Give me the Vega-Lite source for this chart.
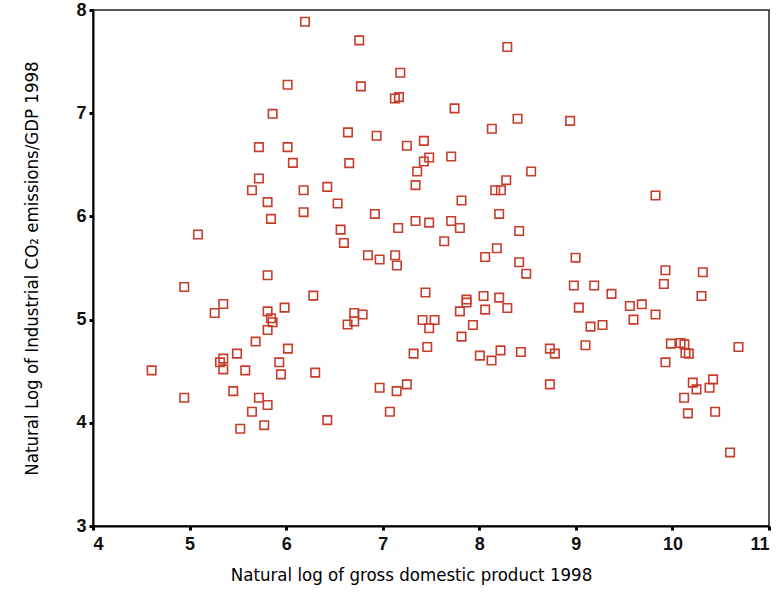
{
  "$schema": "https://vega.github.io/schema/vega-lite/v6.json",
  "width": 676,
  "height": 516,
  "autosize": {"type": "none"},
  "padding": {"left": 93, "top": 10, "right": 8, "bottom": 67},
  "background": "white",
  "config": {
    "view": {"stroke": "#222", "strokeWidth": 1.5},
    "axis": {
      "grid": false,
      "domainColor": "#000",
      "domainWidth": 2,
      "tickColor": "#000",
      "tickSize": 4,
      "tickWidth": 3,
      "labelFont": "Liberation Sans",
      "labelFontSize": 18,
      "labelFontWeight": "bold",
      "labelColor": "#111",
      "titleFont": "Liberation Sans Narrow, DejaVu Sans Condensed, Roboto, sans-serif",
      "titleFontSize": 18.5,
      "titleFontWeight": "normal",
      "titleColor": "#000"
    }
  },
  "data": {
    "values": [
      {"gdp": 6.195, "co2": 7.886}, {"gdp": 6.015, "co2": 7.276}, {"gdp": 5.860, "co2": 6.994},
      {"gdp": 5.718, "co2": 6.671}, {"gdp": 6.015, "co2": 6.671}, {"gdp": 6.070, "co2": 6.519},
      {"gdp": 5.718, "co2": 6.367}, {"gdp": 5.646, "co2": 6.254}, {"gdp": 6.181, "co2": 6.254},
      {"gdp": 5.808, "co2": 6.138}, {"gdp": 5.843, "co2": 5.976}, {"gdp": 6.181, "co2": 6.041},
      {"gdp": 5.087, "co2": 5.824},
      {"gdp": 6.757, "co2": 7.706}, {"gdp": 8.290, "co2": 7.641}, {"gdp": 7.182, "co2": 7.392},
      {"gdp": 6.774, "co2": 7.260}, {"gdp": 7.126, "co2": 7.143}, {"gdp": 7.168, "co2": 7.156},
      {"gdp": 7.744, "co2": 7.047}, {"gdp": 8.396, "co2": 6.946}, {"gdp": 8.130, "co2": 6.849},
      {"gdp": 6.640, "co2": 6.814}, {"gdp": 6.937, "co2": 6.781}, {"gdp": 7.426, "co2": 6.732},
      {"gdp": 7.250, "co2": 6.684}, {"gdp": 7.709, "co2": 6.581}, {"gdp": 7.481, "co2": 6.571},
      {"gdp": 7.426, "co2": 6.532}, {"gdp": 6.653, "co2": 6.516}, {"gdp": 7.357, "co2": 6.435},
      {"gdp": 8.537, "co2": 6.435}, {"gdp": 8.279, "co2": 6.351}, {"gdp": 7.340, "co2": 6.303},
      {"gdp": 6.426, "co2": 6.286}, {"gdp": 8.165, "co2": 6.254}, {"gdp": 8.224, "co2": 6.254},
      {"gdp": 7.816, "co2": 6.154}, {"gdp": 6.533, "co2": 6.125}, {"gdp": 6.919, "co2": 6.024},
      {"gdp": 8.206, "co2": 6.024}, {"gdp": 7.340, "co2": 5.956}, {"gdp": 7.481, "co2": 5.940},
      {"gdp": 7.709, "co2": 5.956}, {"gdp": 7.799, "co2": 5.888}, {"gdp": 6.564, "co2": 5.872},
      {"gdp": 7.160, "co2": 5.888}, {"gdp": 8.413, "co2": 5.859}, {"gdp": 7.637, "co2": 5.759},
      {"gdp": 6.598, "co2": 5.743}, {"gdp": 8.182, "co2": 5.692}, {"gdp": 8.061, "co2": 5.607},
      {"gdp": 6.847, "co2": 5.624}, {"gdp": 6.968, "co2": 5.582}, {"gdp": 7.129, "co2": 5.624},
      {"gdp": 7.147, "co2": 5.524}, {"gdp": 8.413, "co2": 5.556}, {"gdp": 8.486, "co2": 5.445},
      {"gdp": 8.941, "co2": 6.926}, {"gdp": 9.825, "co2": 6.202}, {"gdp": 8.997, "co2": 5.600},
      {"gdp": 9.928, "co2": 5.478}, {"gdp": 10.315, "co2": 5.459},
      {"gdp": 5.808, "co2": 5.430}, {"gdp": 4.945, "co2": 5.316}, {"gdp": 6.281, "co2": 5.232},
      {"gdp": 5.349, "co2": 5.151}, {"gdp": 5.260, "co2": 5.064}, {"gdp": 5.808, "co2": 5.080},
      {"gdp": 5.984, "co2": 5.116}, {"gdp": 5.843, "co2": 5.013}, {"gdp": 5.860, "co2": 4.974},
      {"gdp": 5.808, "co2": 4.899}, {"gdp": 5.684, "co2": 4.787}, {"gdp": 6.019, "co2": 4.719},
      {"gdp": 5.491, "co2": 4.670}, {"gdp": 5.349, "co2": 4.622}, {"gdp": 5.315, "co2": 4.586},
      {"gdp": 5.349, "co2": 4.518}, {"gdp": 5.577, "co2": 4.508}, {"gdp": 5.929, "co2": 4.586},
      {"gdp": 5.946, "co2": 4.469}, {"gdp": 6.301, "co2": 4.486}, {"gdp": 4.607, "co2": 4.508},
      {"gdp": 4.945, "co2": 4.243}, {"gdp": 5.452, "co2": 4.307}, {"gdp": 5.718, "co2": 4.243},
      {"gdp": 5.808, "co2": 4.172}, {"gdp": 5.646, "co2": 4.107}, {"gdp": 5.773, "co2": 3.977},
      {"gdp": 5.525, "co2": 3.942},
      {"gdp": 7.443, "co2": 5.262}, {"gdp": 6.705, "co2": 5.064}, {"gdp": 6.792, "co2": 5.049},
      {"gdp": 6.705, "co2": 4.981}, {"gdp": 6.636, "co2": 4.952}, {"gdp": 7.412, "co2": 4.996},
      {"gdp": 7.537, "co2": 4.996}, {"gdp": 7.481, "co2": 4.916}, {"gdp": 7.461, "co2": 4.734},
      {"gdp": 7.320, "co2": 4.670}, {"gdp": 7.868, "co2": 5.194}, {"gdp": 7.868, "co2": 5.165},
      {"gdp": 7.799, "co2": 5.080}, {"gdp": 8.044, "co2": 5.229}, {"gdp": 8.061, "co2": 5.097},
      {"gdp": 8.206, "co2": 5.213}, {"gdp": 8.290, "co2": 5.113}, {"gdp": 7.934, "co2": 4.948},
      {"gdp": 7.816, "co2": 4.835}, {"gdp": 8.006, "co2": 4.651}, {"gdp": 8.127, "co2": 4.603},
      {"gdp": 8.220, "co2": 4.702}, {"gdp": 8.431, "co2": 4.686}, {"gdp": 6.968, "co2": 4.340},
      {"gdp": 7.144, "co2": 4.307}, {"gdp": 7.250, "co2": 4.372}, {"gdp": 7.074, "co2": 4.107},
      {"gdp": 6.426, "co2": 4.026},
      {"gdp": 9.911, "co2": 5.345}, {"gdp": 10.301, "co2": 5.229}, {"gdp": 8.979, "co2": 5.330},
      {"gdp": 9.190, "co2": 5.330}, {"gdp": 9.369, "co2": 5.249}, {"gdp": 9.031, "co2": 5.116},
      {"gdp": 9.559, "co2": 5.132}, {"gdp": 9.683, "co2": 5.148}, {"gdp": 9.597, "co2": 5.000},
      {"gdp": 9.825, "co2": 5.049}, {"gdp": 9.152, "co2": 4.932}, {"gdp": 9.276, "co2": 4.948},
      {"gdp": 9.100, "co2": 4.751}, {"gdp": 8.731, "co2": 4.719}, {"gdp": 8.783, "co2": 4.670},
      {"gdp": 8.731, "co2": 4.372}, {"gdp": 9.984, "co2": 4.767}, {"gdp": 10.084, "co2": 4.773},
      {"gdp": 10.124, "co2": 4.760}, {"gdp": 10.135, "co2": 4.676}, {"gdp": 10.170, "co2": 4.670},
      {"gdp": 9.928, "co2": 4.586}, {"gdp": 10.684, "co2": 4.734}, {"gdp": 10.211, "co2": 4.389},
      {"gdp": 10.249, "co2": 4.324}, {"gdp": 10.421, "co2": 4.421}, {"gdp": 10.384, "co2": 4.340},
      {"gdp": 10.121, "co2": 4.243}, {"gdp": 10.160, "co2": 4.091}, {"gdp": 10.442, "co2": 4.107},
      {"gdp": 10.597, "co2": 3.713}
    ]
  },
  "mark": {"type": "point", "shape": "square", "filled": false, "size": 72, "strokeWidth": 1.6, "color": "#c63d2c", "opacity": 1},
  "encoding": {
    "x": {
      "field": "gdp", "type": "quantitative",
      "scale": {"domain": [4, 11], "nice": false, "zero": false},
      "axis": {"values": [4, 5, 6, 7, 8, 9, 10, 11], "title": "Natural log of gross domestic product 1998", "labelPadding": 5, "titlePadding": 12, "titleX": 318}
    },
    "y": {
      "field": "co2", "type": "quantitative",
      "scale": {"domain": [3, 8], "nice": false, "zero": false},
      "axis": {"values": [3, 4, 5, 6, 7, 8], "title": "Natural Log of Industrial CO₂ emissions/GDP 1998", "labelPadding": 3, "titlePadding": 34}
    }
  }
}
